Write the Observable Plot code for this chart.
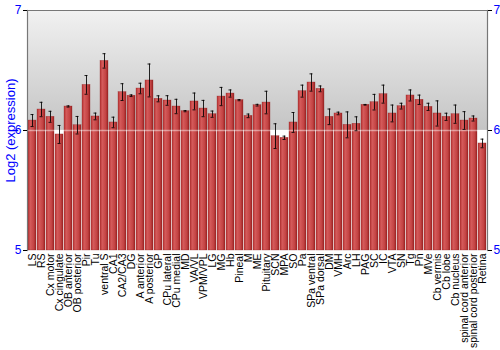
<!DOCTYPE html>
<html>
<head>
<meta charset="utf-8">
<script src="https://cdn.jsdelivr.net/npm/d3@7"></script>
<script src="https://cdn.jsdelivr.net/npm/@observablehq/plot@0.6"></script>
<style>
  body { margin: 0; background: white; }
  svg { font-family: "Liberation Sans", Arial, sans-serif; }
</style>
</head>
<body>
<div id="chart"></div>
<script>
const regions = ["LS","RS","Cx motor","Cx cingulate","OB anterior","OB posterior","Pir","Tu","ventral S","CA1","CA2/CA3","DG","A anterior","A posterior","GP","CPu lateral","CPu medial","MD","VA/VL","VPM/VPL","LG","MG","Hb","Pineal","M","ME","Pituitary","SCN","MPA","SO","Pa","SPa ventral","SPa dorsal","DM","VMH","Arc","LH","PAG","SC","IC","VTA","SN","Tg","Pn","MVe","Cb vermis","Cb lobe","Cb nucleus","spinal cord anterior","spinal cord posterior","Retina"];
const means = [6.083,6.175,6.114,5.967,6.200,6.044,6.380,6.117,6.580,6.067,6.320,6.290,6.350,6.417,6.264,6.250,6.200,6.161,6.242,6.183,6.136,6.283,6.308,6.253,6.122,6.211,6.233,5.953,5.939,6.067,6.328,6.400,6.347,6.114,6.142,6.047,6.056,6.214,6.236,6.303,6.142,6.203,6.292,6.256,6.197,6.142,6.114,6.136,6.083,6.100,5.892];
const errors = [0.050,0.060,0.046,0.075,0.005,0.073,0.078,0.028,0.060,0.044,0.070,0.007,0.044,0.137,0.025,0.040,0.060,0.005,0.070,0.068,0.026,0.076,0.030,0.005,0.015,0.007,0.094,0.103,0.014,0.083,0.050,0.072,0.024,0.065,0.011,0.108,0.058,0.003,0.065,0.075,0.070,0.024,0.046,0.039,0.030,0.105,0.030,0.076,0.074,0.021,0.036];
const yTicks = [5, 6, 7];

const data = regions.map((r, i) => ({region: r, mean: means[i], lo: means[i] - errors[i], hi: means[i] + errors[i]}));

const plot = Plot.plot({
  width: 500,
  height: 350,
  marginLeft: 27,
  marginRight: 13,
  marginTop: 10,
  marginBottom: 100,
  style: {fontSize: "11px", fontFamily: "Liberation Sans, Arial, sans-serif"},
  x: {domain: regions, padding: 0.1, label: null},
  y: {domain: [5, 7], label: null},
  marks: [
    Plot.frame({fill: "url(#bgGrad)", stroke: "none"}),
    Plot.barY(data, {x: "region", y1: 5, y2: "mean", fill: "url(#barGrad)", stroke: "#8a1d1d", strokeWidth: 0.5, strokeOpacity: 0.6}),
    Plot.ruleY([6], {stroke: "white", strokeWidth: 1.5, strokeOpacity: 0.45}),
    Plot.ruleX(data, {x: "region", y1: "lo", y2: "hi", stroke: "black", strokeWidth: 1, strokeOpacity: 0.85}),
    Plot.tickY(data, {x: "region", y: "lo", stroke: "black", strokeWidth: 1, insetLeft: 2.5, insetRight: 2.5, strokeOpacity: 0.85}),
    Plot.tickY(data, {x: "region", y: "hi", stroke: "black", strokeWidth: 1, insetLeft: 2.5, insetRight: 2.5, strokeOpacity: 0.85}),
    Plot.frame({stroke: "#777", strokeWidth: 1.2, fill: "none", anchor: "top"}),
    Plot.frame({stroke: "#777", strokeWidth: 1.2, fill: "none", anchor: "left"}),
    Plot.frame({stroke: "#777", strokeWidth: 1.2, fill: "none", anchor: "right"}),
    Plot.axisY({anchor: "left", ticks: yTicks, tickFormat: d3.format("d"), tickSize: 4, tickPadding: 2, stroke: "black", fill: "blue", fontSize: 12,
      label: "Log2 (expression)", labelArrow: "none", labelAnchor: "center", labelOffset: 22}),
    Plot.axisY({anchor: "right", ticks: yTicks, tickFormat: d3.format("d"), tickSize: 4, tickPadding: 2, stroke: "black", fill: "blue", fontSize: 12, label: null}),
    Plot.axisX({anchor: "bottom", tickRotate: -90, tickSize: 0, tickPadding: 3, fontSize: 10.5, fill: "black", label: null})
  ]
});

const ns = "http://www.w3.org/2000/svg";
const defs = document.createElementNS(ns, "defs");
defs.innerHTML = `
  <linearGradient id="bgGrad" x1="0" y1="0" x2="0" y2="1">
    <stop offset="0" stop-color="#f1f1f1"/>
    <stop offset="0.5" stop-color="#c4c4c4"/>
    <stop offset="0.5" stop-color="#ffffff"/>
    <stop offset="1" stop-color="#ffffff"/>
  </linearGradient>
  <linearGradient id="barGrad" x1="0" y1="0" x2="1" y2="0">
    <stop offset="0" stop-color="#b73434"/>
    <stop offset="0.3" stop-color="#d45a5a"/>
    <stop offset="0.7" stop-color="#c44444"/>
    <stop offset="1" stop-color="#9c2424"/>
  </linearGradient>`;
plot.insertBefore(defs, plot.firstChild);
plot.querySelectorAll('[aria-label="y-axis label"] text, [aria-label="y-axis label"]').forEach(el => { el.setAttribute("fill", "blue"); el.setAttribute("font-size", "13"); });
document.getElementById("chart").appendChild(plot);
</script>
</body>
</html>
